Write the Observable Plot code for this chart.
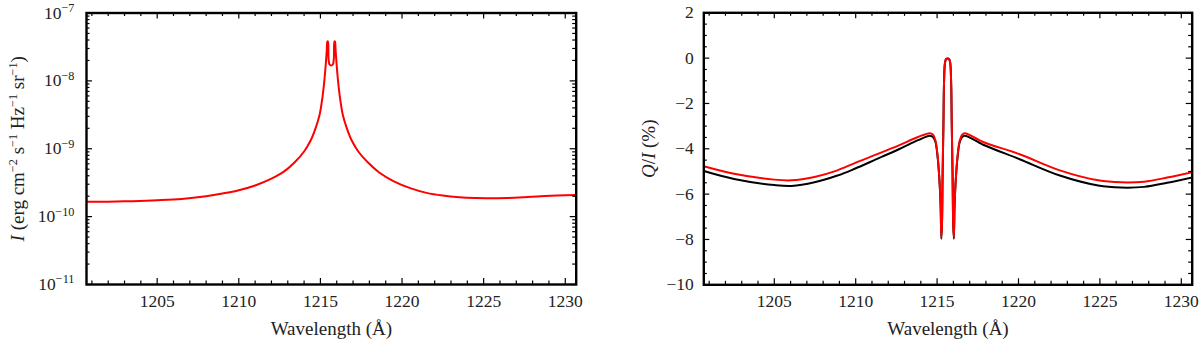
<!DOCTYPE html>
<html><head><meta charset="utf-8">
<script src="https://cdn.jsdelivr.net/npm/d3@7"></script>
<script src="https://cdn.jsdelivr.net/npm/@observablehq/plot@0.6"></script>
<style>
body{margin:0;background:#fff;}
#wrap{display:flex;width:1200px;height:342px;overflow:hidden;}
#wrap svg{flex:none;}
#wrap svg, #wrap svg text, #wrap svg tspan{font-family:"Liberation Serif","Times New Roman",serif !important;}
</style></head><body><div id="wrap"></div>
<script>
// ---------- data ----------
const xDomain = [1200.67, 1230.67];
const xMajorTicks = [1205, 1210, 1215, 1220, 1225, 1230];
const xMinorTicks = [1201,1202,1203,1204,1206,1207,1208,1209,1211,1212,1213,1214,1216,1217,1218,1219,1221,1222,1223,1224,1226,1227,1228,1229];

// Left panel: intensity I (log scale)
const iDomain = [1e-11, 1e-7];
const iMajorTicks = [1e-11, 1e-10, 1e-9, 1e-8, 1e-7];
const iTickLabels = ["10^{−11}", "10^{−10}", "10^{−9}", "10^{−8}", "10^{−7}"];
const iMinorFactors = [2,3,4,5,6,7,8,9];
const lamI = [1200.67,1202.0,1203.5,1205.0,1206.5,1208.0,1209.0,1210.0,1211.0,1212.0,1212.8,1213.5,1214.0,1214.4,1214.7,1214.95,1215.12,1215.24,1215.33,1215.39,1215.43,1215.46,1215.50,1215.56,1215.66,1215.76,1215.82,1215.86,1215.89,1215.93,1215.99,1216.08,1216.2,1216.37,1216.62,1216.92,1217.32,1217.9,1218.6,1219.5,1220.5,1221.5,1222.5,1223.5,1224.5,1225.5,1226.5,1227.5,1228.5,1229.5,1230.67];
const valI = [1.65e-10,1.66e-10,1.69e-10,1.74e-10,1.82e-10,2.00e-10,2.19e-10,2.45e-10,2.88e-10,3.63e-10,4.68e-10,6.61e-10,9.12e-10,1.32e-9,2.00e-9,3.16e-9,5.62e-9,1.0e-8,1.78e-8,2.82e-8,3.80e-8,3.80e-8,2.09e-8,1.74e-8,1.68e-8,1.74e-8,2.09e-8,3.80e-8,3.80e-8,2.82e-8,1.78e-8,1.0e-8,5.62e-9,3.16e-9,2.00e-9,1.32e-9,9.12e-10,6.31e-10,4.47e-10,3.31e-10,2.63e-10,2.24e-10,2.04e-10,1.93e-10,1.88e-10,1.87e-10,1.88e-10,1.93e-10,2.00e-10,2.04e-10,2.09e-10];

// Right panel: Q/I (%)
const qDomain = [-10, 2];
const qMajorTicks = [-10, -8, -6, -4, -2, 0, 2];
const qMinorTicks = [-9.5,-9,-8.5,-7.5,-7,-6.5,-5.5,-5,-4.5,-3.5,-3,-2.5,-1.5,-1,-0.5,0.5,1,1.5];
const lamQred = [1200.67,1202.53,1205.0,1206.06,1207.47,1208.88,1209.94,1211.24,1212.65,1213.83,1214.55,1214.75,1214.90,1215.04,1215.12,1215.18,1215.22,1215.26,1215.30,1215.34,1215.39,1215.43,1215.49,1215.56,1215.645,1215.73,1215.80,1215.86,1215.90,1215.95,1215.99,1216.03,1216.07,1216.11,1216.17,1216.25,1216.39,1216.54,1216.70,1217.83,1220.07,1222.54,1224.89,1226.30,1227.72,1229.13,1230.67];
const valQred = [-4.77,-5.10,-5.36,-5.39,-5.24,-4.95,-4.63,-4.26,-3.85,-3.48,-3.31,-3.38,-3.63,-4.37,-5.10,-5.84,-6.58,-7.90,-7.31,-5.10,-2.90,-0.99,-0.18,-0.04,-0.02,-0.04,-0.18,-0.99,-2.90,-5.10,-7.31,-7.90,-6.58,-5.84,-5.10,-4.37,-3.63,-3.38,-3.31,-3.70,-4.24,-4.95,-5.39,-5.48,-5.45,-5.27,-5.03];
const lamQblack = [1200.67,1202.53,1205.0,1206.06,1207.47,1208.88,1209.94,1211.24,1212.65,1213.83,1214.55,1214.75,1214.90,1215.04,1215.12,1215.18,1215.22,1215.26,1215.30,1215.34,1215.39,1215.43,1215.49,1215.56,1215.645,1215.73,1215.80,1215.86,1215.90,1215.95,1215.99,1216.03,1216.07,1216.11,1216.17,1216.25,1216.39,1216.54,1216.70,1217.83,1220.07,1222.54,1224.89,1226.30,1227.72,1229.13,1230.67];
const valQblack = [-4.98,-5.33,-5.60,-5.64,-5.48,-5.18,-4.88,-4.47,-4.02,-3.62,-3.42,-3.48,-3.70,-4.42,-5.12,-5.86,-6.62,-7.97,-7.35,-5.10,-2.90,-0.99,-0.18,-0.04,-0.02,-0.04,-0.18,-0.99,-2.90,-5.10,-7.35,-7.97,-6.62,-5.86,-5.12,-4.42,-3.70,-3.48,-3.42,-3.82,-4.46,-5.18,-5.62,-5.71,-5.68,-5.50,-5.26];

const xTitle = "Wavelength (Å)";
const iTitle = "*I* (erg cm^{−2} s^{−1} Hz^{−1} sr^{−1})";
const qTitle = "*Q*/*I* (%)";

// ---------- helpers ----------
const W = 600, H = 342;
const FONT = '"Liberation Serif", "Times New Roman", serif';
const TICK_FS = 17.5, TITLE_FS = 19;
const iMinorTicks = iMajorTicks.slice(0, -1).flatMap(d => iMinorFactors.map(k => k * d));
const toRows = (xs, ys) => xs.map((x, i) => ({x, y: ys[i]}));

function tickMarks(xMaj, xMin, yMaj, yMin, ih, iw) {
  const big = 6, small = 3.5, sw = 1.2;
  return [
    Plot.tickX(xMaj, {x: d => d, insetTop: ih - big, strokeWidth: sw}),
    Plot.tickX(xMin, {x: d => d, insetTop: ih - small, strokeWidth: sw}),
    Plot.tickX(xMaj, {x: d => d, insetBottom: ih - big, strokeWidth: sw}),
    Plot.tickX(xMin, {x: d => d, insetBottom: ih - small, strokeWidth: sw}),
    Plot.tickY(yMaj, {y: d => d, insetRight: iw - big, strokeWidth: sw}),
    Plot.tickY(yMin, {y: d => d, insetRight: iw - small, strokeWidth: sw}),
    Plot.tickY(yMaj, {y: d => d, insetLeft: iw - big, strokeWidth: sw}),
    Plot.tickY(yMin, {y: d => d, insetLeft: iw - small, strokeWidth: sw})
  ];
}

function rich(svg) {
  d3.select(svg).selectAll("text").attr("font-family", FONT).each(function () {
    const s = this.textContent;
    if (!/[\^*]/.test(s)) return;
    const el = d3.select(this);
    const fs = parseFloat(el.attr("font-size")) || TICK_FS;
    const sup = fs * 0.7, shift = fs * 0.38;
    el.text(null);
    const re = /(\^\{[^}]*\})|(\*[^*]*\*)|([^\^*]+)/g;
    let m, raised = false;
    while ((m = re.exec(s))) {
      if (m[1]) {
        el.append("tspan").attr("dy", -shift).attr("font-size", sup).text(m[1].slice(2, -1));
        raised = true;
      } else {
        const t = el.append("tspan");
        if (raised) { t.attr("dy", shift); raised = false; }
        if (m[2]) t.attr("font-style", "italic").text(m[2].slice(1, -1));
        else t.text(m[3]);
      }
    }
  });
}

function panel({ml, mr, mt, mb, y, yMaj, yMin, yFormat, yPad, series, yTitle, yTitleDx}) {
  const ih = H - mt - mb, iw = W - ml - mr;
  const svg = Plot.plot({
    width: W, height: H, marginLeft: ml, marginRight: mr, marginTop: mt, marginBottom: mb,
    style: {fontFamily: FONT, fontSize: TICK_FS + "px", color: "black", background: "white", overflow: "visible"},
    x: {domain: xDomain},
    y,
    marks: [
      ...series.map(s => Plot.line(s.rows, {x: "x", y: "y", stroke: s.color, strokeWidth: 2, curve: "catmull-rom", clip: true})),
      ...tickMarks(xMajorTicks, xMinorTicks, yMaj, yMin, ih, iw),
      Plot.frame({stroke: "black", strokeWidth: 2.4}),
      Plot.axisX({ticks: xMajorTicks, tickSize: 0, tickPadding: 10, tickFormat: d => String(d), label: null, fill: "#222", fontSize: TICK_FS}),
      Plot.axisY({ticks: yMaj, tickSize: 0, tickPadding: yPad, tickFormat: yFormat, label: null, fill: "#222", fontSize: TICK_FS}),
      Plot.text([xTitle], {text: d => d, frameAnchor: "bottom", dy: 44, lineAnchor: "middle", textAnchor: "middle", fill: "#222", fontSize: TITLE_FS}),
      Plot.text([yTitle], {text: d => d, frameAnchor: "left", dx: yTitleDx, rotate: -90, lineAnchor: "middle", textAnchor: "middle", fill: "#222", fontSize: TITLE_FS})
    ]
  });
  rich(svg);
  return svg;
}

const left = panel({
  ml: 86, mr: 24.3, mt: 12.5, mb: 58,
  y: {type: "log", domain: iDomain},
  yMaj: iMajorTicks, yMin: iMinorTicks, yPad: 12,
  yFormat: d => iTickLabels[iMajorTicks.findIndex(v => Math.abs(Math.log10(v) - Math.log10(d)) < 1e-6)],
  series: [{rows: toRows(lamI, valI), color: "#ff0000"}],
  yTitle: iTitle, yTitleDx: -69
});
const right = panel({
  ml: 103.3, mr: 8.3, mt: 12.3, mb: 57.7,
  y: {domain: qDomain},
  yMaj: qMajorTicks, yMin: qMinorTicks, yPad: 10,
  yFormat: d => (d < 0 ? "−" : "") + Math.abs(d),
  series: [{rows: toRows(lamQblack, valQblack), color: "#000000"}, {rows: toRows(lamQred, valQred), color: "#ff0000"}],
  yTitle: qTitle, yTitleDx: -55
});
document.getElementById("wrap").append(left, right);
</script></body></html>
